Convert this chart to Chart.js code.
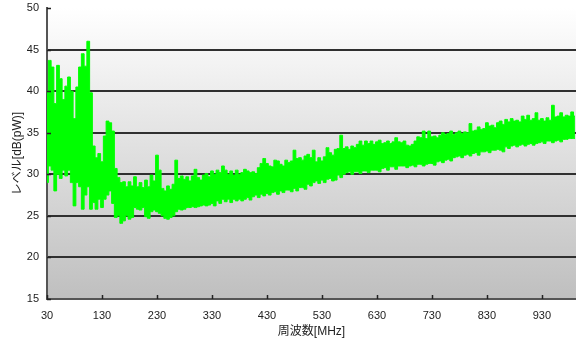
<!DOCTYPE html>
<html>
<head>
<meta charset="utf-8">
<script src="https://cdn.jsdelivr.net/npm/chart.js@4/dist/chart.umd.min.js"></script>
<style>
  html, body { margin: 0; padding: 0; background: #fff; }
  #wrap { width: 576px; height: 341px; }
</style>
</head>
<body>
<div id="wrap"><canvas id="spectrumChart" width="576" height="341"></canvas></div>
<script>
/* Spectrum sweep, every 5 MHz (30 ... 990 MHz) */
const FREQ_START = 30;
const FREQ_STEP = 5;

// upper edge of the trace [dB(pW)]
const hiDb = [
  40.0, 43.7, 42.9, 38.5, 43.1, 41.5, 39.0, 40.6, 41.7, 40.0,
  36.7, 40.5, 42.9, 44.5, 43.0, 46.0, 39.8, 33.4, 32.0, 32.5,
  31.5, 34.6, 36.4, 36.2, 35.2, 30.7, 29.6, 29.0, 29.1, 28.5,
  29.1, 28.6, 29.7, 28.5, 29.0, 28.4, 29.3, 28.5, 29.9, 29.2,
  32.3, 30.5, 28.3, 28.0, 28.6, 28.2, 28.8, 31.7, 29.5, 29.8,
  29.4, 29.7, 29.2, 29.8, 30.6, 29.6, 29.3, 29.9, 30.1, 29.7,
  30.4, 30.0, 30.5, 30.2, 31.0, 30.5, 30.0, 30.4, 29.9, 30.5,
  30.0, 30.2, 30.6, 30.4, 30.2, 30.3, 30.1, 30.8, 31.3, 31.9,
  31.3, 31.0, 30.9, 31.7, 31.6, 31.2, 31.0, 31.7, 31.4, 31.6,
  32.9, 31.9, 32.0, 31.7, 32.2, 32.4, 32.0, 32.9, 31.5, 32.0,
  31.6, 32.1, 33.2, 32.6, 32.3, 33.0, 33.1, 34.7, 33.1, 33.3,
  33.0, 33.4, 33.2, 33.6, 34.0, 33.5, 34.0, 33.7, 34.0, 33.6,
  33.9, 34.1, 33.7, 33.8, 34.0, 33.7, 33.9, 34.4, 33.9, 33.8,
  34.0, 33.5, 33.4, 33.6, 34.0, 34.5, 34.4, 35.2, 34.3, 35.2,
  34.5, 34.6, 34.4, 34.7, 35.0, 34.8, 34.9, 35.2, 34.8, 35.0,
  35.2, 34.9, 35.1, 35.0, 36.1, 35.2, 35.3, 35.7, 35.4, 35.5,
  36.2, 35.8, 35.9, 35.6, 36.2, 36.4, 36.0, 36.6, 36.3, 36.7,
  36.4, 36.5, 36.3, 37.0, 36.6, 37.1, 36.5, 36.7, 37.4, 36.5,
  36.7, 36.4, 36.8, 36.5, 38.3, 36.9, 37.0, 37.4, 36.9, 37.1,
  37.0, 37.5, 37.0
];

// lower edge of the trace [dB(pW)]
const loDb = [
  29.0, 31.0, 30.5, 28.0, 30.0, 29.5, 30.5, 29.8, 30.5, 29.0,
  26.2, 29.0, 28.5, 25.8, 27.5, 28.5, 25.8, 26.6, 25.8, 27.0,
  26.0, 27.0, 27.5, 28.0, 26.5, 24.8, 25.0, 24.1, 24.4, 25.0,
  24.6, 24.8, 26.0, 25.8, 25.7, 26.0, 24.9, 24.7, 25.5, 25.7,
  25.5, 25.3, 25.0, 24.7, 24.6, 24.8, 25.0, 25.5, 25.8, 25.7,
  25.8, 26.0, 26.0, 26.1, 26.0, 26.1, 26.2, 26.3, 26.2, 26.3,
  26.5, 26.2, 26.8, 26.5, 27.0, 26.7, 27.0, 26.6, 27.0, 26.8,
  27.0, 26.8, 27.0, 27.2, 26.9, 27.3, 27.5, 27.2, 27.6, 27.4,
  27.7, 27.5, 27.8, 27.9, 27.6, 28.0, 27.8, 28.1, 28.1, 27.9,
  28.3, 28.0, 28.4, 28.4, 28.2, 28.8, 28.6, 29.0, 29.2, 28.9,
  29.3, 29.0, 29.4, 29.5, 29.2, 29.3, 29.9, 29.6, 30.0, 30.2,
  30.3, 30.0, 30.3, 30.3, 30.1, 30.4, 30.4, 30.2, 30.5, 30.5,
  30.5, 30.3, 30.7, 30.8, 30.5, 30.9, 30.9, 30.6, 31.0, 31.0,
  31.0, 30.8, 31.0, 31.1, 30.9, 31.2, 31.2, 31.0, 31.2, 31.3,
  31.3, 31.1, 31.5, 31.6, 31.4, 31.7, 31.8, 31.6, 32.0, 32.1,
  32.2, 32.0, 32.3, 32.4, 32.2, 32.5, 32.6, 32.3, 32.7, 32.7,
  32.8, 32.6, 32.9, 32.9, 33.0, 32.9, 32.7, 33.3, 33.1, 33.4,
  33.5, 33.3, 33.5, 33.6, 33.4, 33.6, 33.7, 33.5, 33.7, 33.8,
  33.9, 33.7, 34.0, 34.0, 33.8, 34.0, 34.1, 33.9, 34.2, 34.2,
  34.3, 34.3, 34.3
];

const xTicks = [30, 130, 230, 330, 430, 530, 630, 730, 830, 930];
const yTicks = [15, 20, 25, 30, 35, 40, 45, 50];

const TRACE_GREEN = "#00ff00";
const AXIS_COLOR = "#555555";
const GRID_COLOR = "#303030";
const LABEL_FONT = { family: "'Liberation Sans', Arial, sans-serif", size: 11 };
const TITLE_FONT = { family: "'Liberation Sans', 'Noto Sans CJK JP', sans-serif", size: 12 };

const freqMHz = hiDb.map((_, i) => FREQ_START + FREQ_STEP * i);
const hiPoints = hiDb.map((v, i) => ({ x: freqMHz[i], y: v }));
const loPoints = loDb.map((v, i) => ({ x: freqMHz[i], y: v }));

/**
 * Grey-to-white backdrop of the plot area.
 */
const plotBackdrop = {
  id: "plotBackdrop",
  beforeDraw(chart) {
    const { ctx, chartArea: a } = chart;
    const g = ctx.createLinearGradient(0, a.top, 0, a.bottom);
    g.addColorStop(0, "#ffffff");
    g.addColorStop(1, "#bfbfbf");
    ctx.save();
    ctx.fillStyle = g;
    ctx.fillRect(a.left, a.top, a.right - a.left, a.bottom - a.top);
    ctx.restore();
  },
};

/**
 * Short tick marks pointing into the plot, placed through the scales.
 */
const innerTicks = {
  id: "innerTicks",
  afterDraw(chart) {
    const { ctx, chartArea: a, scales } = chart;
    ctx.save();
    ctx.strokeStyle = "#222";
    ctx.lineWidth = 1.5;
    ctx.beginPath();
    xTicks.forEach((v) => {
      const px = Math.round(scales.x.getPixelForValue(v)) + 0.5;
      ctx.moveTo(px, a.bottom);
      ctx.lineTo(px, a.bottom - 4);
    });
    yTicks.forEach((v) => {
      const py = Math.round(scales.y.getPixelForValue(v)) + 0.5;
      ctx.moveTo(a.left, py);
      ctx.lineTo(a.left + 4, py);
    });
    ctx.stroke();
    ctx.restore();
  },
};

new Chart(document.getElementById("spectrumChart"), {
  type: "line",
  data: {
    datasets: [
      {
        label: "upper",
        data: hiPoints,
        borderColor: TRACE_GREEN,
        borderWidth: 1,
        pointRadius: 0,
        stepped: "middle",
        fill: false,
      },
      {
        label: "lower",
        data: loPoints,
        borderColor: TRACE_GREEN,
        backgroundColor: TRACE_GREEN,
        borderWidth: 1,
        pointRadius: 0,
        stepped: "middle",
        fill: "-1",
      },
    ],
  },
  options: {
    responsive: false,
    animation: false,
    devicePixelRatio: 1,
    layout: { padding: { top: 8, right: 0, bottom: 0, left: 0 } },
    plugins: {
      legend: { display: false },
      tooltip: { enabled: false },
    },
    scales: {
      x: {
        type: "linear",
        min: 30,
        max: 992,
        afterBuildTicks: (scale) => {
          scale.ticks = xTicks.map((v) => ({ value: v }));
        },
        afterFit: (scale) => {
          scale.height = 42;
          scale.paddingRight = 0;
        },
        grid: { display: false, drawTicks: false },
        border: { display: true, color: AXIS_COLOR, width: 2 },
        ticks: { color: "#222", font: LABEL_FONT, padding: 10, maxRotation: 0 },
        title: {
          display: true,
          text: "周波数[MHz]",
          color: "#222",
          font: TITLE_FONT,
          padding: { top: 0, bottom: 2 },
        },
      },
      y: {
        min: 15,
        max: 50,
        afterBuildTicks: (scale) => {
          scale.ticks = yTicks.map((v) => ({ value: v }));
        },
        afterFit: (scale) => {
          scale.width = 47;
          scale.paddingTop = 0;
          scale.paddingBottom = 0;
        },
        grid: {
          drawTicks: false,
          lineWidth: 2,
          color: (c) => (c.tick && (c.tick.value === 50 || c.tick.value === 15) ? "rgba(0,0,0,0)" : GRID_COLOR),
        },
        border: { display: true, color: AXIS_COLOR, width: 2 },
        ticks: { color: "#222", font: LABEL_FONT, padding: 8 },
        title: {
          display: true,
          text: "レベル[dB(pW)]",
          color: "#222",
          font: TITLE_FONT,
          padding: { top: 10, bottom: 0 },
        },
      },
    },
  },
  plugins: [plotBackdrop, innerTicks],
});
</script>
</body>
</html>
